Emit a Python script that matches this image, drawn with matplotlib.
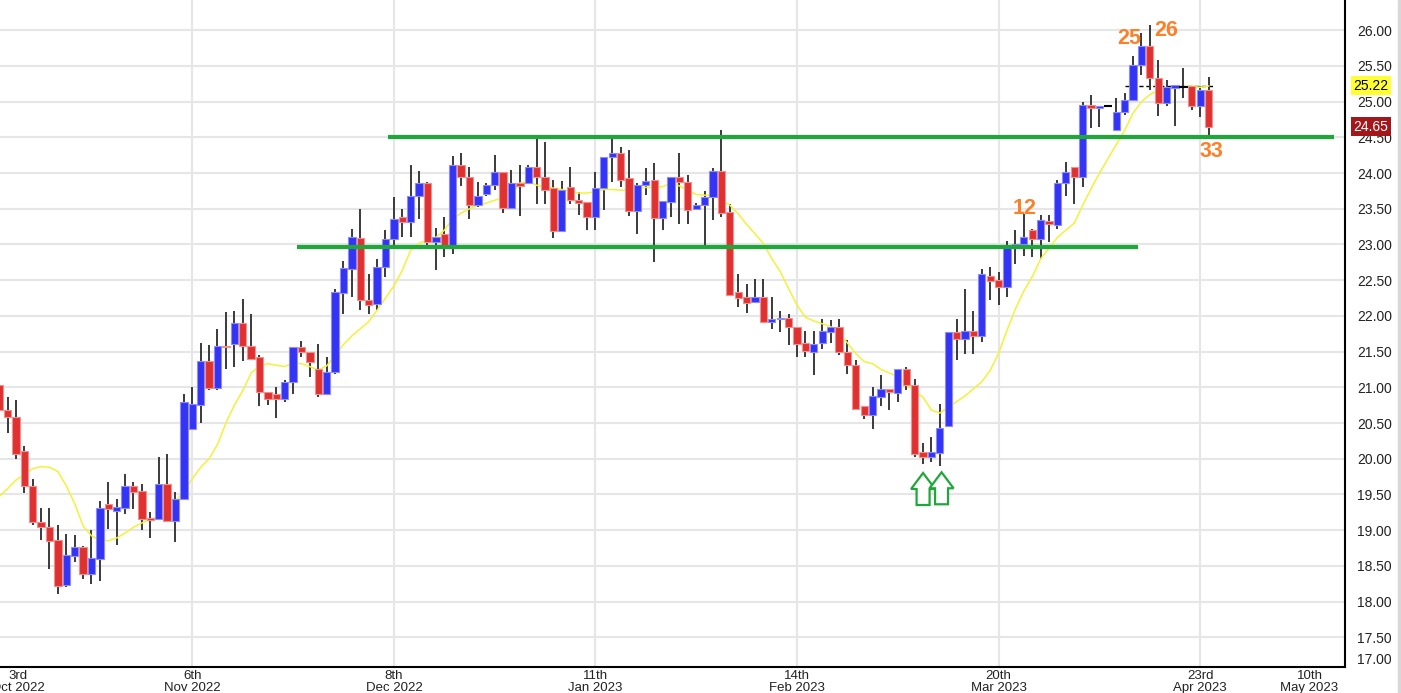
import numpy as np
import pandas as pd
import matplotlib
matplotlib.use("Agg")
import matplotlib.pyplot as plt
import matplotlib.transforms as mtransforms
from matplotlib.patches import Polygon, Rectangle

plt.rcParams['font.family'] = ['Liberation Sans', 'DejaVu Sans']

# 1. Data (daily candles, 4 Oct 2022 -> 24 Apr 2023)
opens = [21.03, 20.68, 20.59, 20.11, 19.62, 19.11, 19.05, 18.86, 18.23, 18.64,
         18.77, 18.39, 18.60, 19.36, 19.27, 19.31, 19.62, 19.55, 19.17, 19.15,
         19.64, 19.13, 19.43, 20.42, 20.75, 21.37, 20.99, 21.58, 21.60, 21.90,
         21.58, 21.42, 20.94, 20.90, 20.83, 21.07, 21.57, 21.49, 21.26, 20.90,
         21.21, 22.32, 22.66, 23.09, 22.22, 22.16, 22.69, 23.07, 23.39, 23.31,
         23.68, 23.86, 23.04, 23.14, 22.98, 24.11, 23.94, 23.55, 23.71, 23.84,
         24.02, 23.51, 23.86, 23.86, 24.08, 23.95, 23.79, 23.19, 23.81, 23.63,
         23.60, 23.39, 23.79, 24.23, 24.28, 23.93, 23.47, 23.83, 23.90, 23.37,
         23.60, 23.94, 23.88, 23.50, 23.56, 23.66, 24.03, 23.46, 22.33, 22.26,
         22.20, 22.26, 21.91, 21.95, 21.97, 21.85, 21.62, 21.50, 21.62, 21.77,
         21.84, 21.50, 21.31, 20.74, 20.61, 20.87, 20.97, 20.92, 21.26, 21.03,
         20.10, 20.03, 20.08, 20.46, 21.78, 21.67, 21.79, 21.72, 22.56, 22.50,
         22.41, 22.97, 23.01, 23.20, 23.08, 23.33, 23.27, 23.86, 24.08, 23.94,
         24.96, 24.91, 24.94, 24.61, 24.86, 25.02, 25.51, 25.78, 25.33, 24.98,
         25.19, 25.21, 25.22, 24.94, 25.17]
highs = [21.08, 20.87, 20.82, 20.18, 19.72, 19.31, 19.31, 19.07, 18.94, 18.93,
         18.78, 19.00, 19.41, 19.67, 19.43, 19.78, 19.67, 19.64, 19.26, 20.02,
         20.07, 19.53, 20.90, 21.01, 21.62, 21.59, 21.81, 22.05, 22.07, 22.23,
         22.03, 21.45, 20.94, 21.00, 21.10, 21.57, 21.65, 21.50, 21.60, 21.43,
         22.38, 22.77, 23.21, 23.50, 22.59, 22.80, 23.20, 23.66, 23.50, 24.12,
         24.03, 23.88, 23.23, 23.39, 24.24, 24.28, 24.09, 23.88, 23.86, 24.26,
         24.02, 24.05, 24.12, 24.12, 24.53, 24.44, 23.90, 23.89, 24.09, 23.74,
         23.60, 24.02, 24.23, 24.49, 24.36, 24.32, 23.86, 24.07, 24.14, 23.61,
         23.94, 24.28, 23.97, 23.58, 23.75, 24.07, 24.60, 23.57, 22.59, 22.45,
         22.52, 22.52, 22.27, 22.07, 22.02, 21.85, 21.79, 21.79, 21.95, 21.94,
         21.96, 21.66, 21.38, 20.74, 21.00, 21.17, 20.97, 21.26, 21.29, 21.12,
         20.22, 20.30, 20.77, 21.78, 21.96, 22.38, 22.07, 22.65, 22.69, 22.62,
         23.05, 23.20, 23.43, 23.22, 23.41, 23.41, 23.90, 24.15, 24.08, 25.00,
         25.10, 24.94, 24.95, 25.05, 25.12, 25.64, 25.96, 26.07, 25.59, 25.30,
         25.23, 25.47, 25.22, 25.22, 25.35]
lows = [20.62, 20.36, 20.00, 19.52, 19.07, 18.86, 18.45, 18.10, 18.21, 18.56,
        18.32, 18.24, 18.29, 19.02, 18.79, 19.22, 19.29, 19.00, 18.89, 19.14,
        19.13, 18.84, 19.42, 20.40, 20.50, 20.96, 20.96, 21.26, 21.29, 21.37,
        21.38, 20.74, 20.75, 20.57, 20.80, 20.91, 21.43, 21.14, 20.86, 20.90,
        21.19, 22.02, 22.27, 22.08, 22.02, 22.08, 22.55, 22.94, 23.10, 23.10,
        23.36, 22.94, 22.64, 22.83, 22.87, 23.82, 23.36, 23.52, 23.68, 23.76,
        23.44, 23.50, 23.40, 23.86, 23.57, 23.57, 23.09, 23.19, 23.57, 23.41,
        23.20, 23.20, 23.48, 23.88, 23.81, 23.40, 23.15, 23.69, 22.76, 23.20,
        23.39, 23.29, 23.29, 23.48, 22.97, 23.34, 23.39, 22.29, 22.13, 22.04,
        22.20, 21.91, 21.81, 21.78, 21.59, 21.43, 21.42, 21.17, 21.54, 21.62,
        21.45, 21.19, 20.70, 20.56, 20.42, 20.74, 20.68, 20.80, 20.96, 20.02,
        19.92, 19.96, 19.90, 20.45, 21.38, 21.47, 21.47, 21.64, 22.22, 22.15,
        22.27, 22.73, 22.84, 22.83, 22.80, 23.04, 23.22, 23.68, 23.57, 23.81,
        24.63, 24.64, 24.93, 24.59, 24.81, 25.02, 25.37, 25.16, 24.80, 24.94,
        24.66, 25.05, 24.88, 24.78, 24.49]
closes = [20.68, 20.58, 20.06, 19.62, 19.11, 19.05, 18.85, 18.22, 18.65, 18.77,
          18.39, 18.61, 19.31, 19.29, 19.33, 19.62, 19.54, 19.16, 19.14, 19.64,
          19.13, 19.44, 20.80, 20.76, 21.37, 20.99, 21.58, 21.56, 21.90, 21.58,
          21.40, 20.94, 20.83, 20.83, 21.07, 21.57, 21.49, 21.36, 20.90, 21.21,
          22.33, 22.67, 23.11, 22.22, 22.15, 22.69, 23.07, 23.36, 23.31, 23.68,
          23.86, 23.04, 23.11, 22.98, 24.11, 23.94, 23.55, 23.68, 23.84, 24.02,
          23.51, 23.86, 23.82, 24.08, 23.95, 23.77, 23.19, 23.77, 23.62, 23.58,
          23.39, 23.79, 24.23, 24.28, 23.91, 23.47, 23.84, 23.89, 23.37, 23.61,
          23.94, 23.88, 23.48, 23.56, 23.66, 24.03, 23.44, 22.29, 22.25, 22.18,
          22.26, 21.91, 21.96, 21.97, 21.85, 21.61, 21.51, 21.60, 21.79, 21.84,
          21.50, 21.31, 20.70, 20.61, 20.88, 20.97, 20.94, 21.25, 21.03, 20.07,
          20.03, 20.09, 20.43, 21.78, 21.67, 21.79, 21.72, 22.59, 22.49, 22.41,
          22.97, 23.01, 23.11, 23.08, 23.34, 23.28, 23.86, 24.02, 23.94, 24.96,
          24.91, 24.94, 24.94, 24.86, 25.03, 25.52, 25.78, 25.33, 24.98, 25.20,
          25.23, 25.21, 24.94, 25.17, 24.65]
# yellow average line, read at every candle
ma_vals = [19.47, 19.58, 19.70, 19.78, 19.86, 19.89, 19.88, 19.82, 19.62, 19.37,
           19.06, 18.92, 18.86, 18.85, 18.89, 18.96, 19.04, 19.10, 19.15, 19.19,
           19.27, 19.40, 19.55, 19.72, 19.88, 20.00, 20.20, 20.50, 20.75, 20.95,
           21.20, 21.30, 21.33, 21.31, 21.29, 21.34, 21.33, 21.29, 21.24, 21.30,
           21.45, 21.60, 21.72, 21.82, 21.92, 22.08, 22.25, 22.42, 22.64, 22.92,
           23.02, 23.06, 23.10, 23.20, 23.36, 23.44, 23.50, 23.55, 23.58, 23.62,
           23.65, 23.69, 23.86, 23.88, 23.83, 23.80, 23.79, 23.77, 23.74, 23.72,
           23.72, 23.74, 23.77, 23.77, 23.76, 23.76, 23.79, 23.80, 23.80, 23.81,
           23.86, 23.82, 23.76, 23.70, 23.69, 23.69, 23.62, 23.55, 23.43, 23.28,
           23.15, 23.01, 22.80, 22.62, 22.38, 22.15, 21.98, 21.93, 21.89, 21.85,
           21.76, 21.62, 21.47, 21.36, 21.33, 21.25, 21.20, 21.15, 21.03, 20.95,
           20.86, 20.68, 20.64, 20.72, 20.80, 20.88, 20.98, 21.08, 21.24, 21.48,
           21.80, 22.10, 22.35, 22.55, 22.80, 22.95, 23.10, 23.20, 23.30, 23.55,
           23.78, 24.00, 24.20, 24.40, 24.60, 24.84, 25.00, 25.10, 25.16, 25.19,
           25.20, 25.21, 25.22, 25.20, 25.22]

# support / resistance lines: level, first candle, last candle
levels = [24.50, 22.97]
level_start = [46.3, 35.5]
level_end = [158.9, 135.6]

tick_dates = ['2022-10-03', '2022-11-06', '2022-12-08', '2023-01-11',
              '2023-02-14', '2023-03-20', '2023-04-23', '2023-05-10']
tick_labels = ['3rd\nOct 2022', '6th\nNov 2022', '8th\nDec 2022', '11th\nJan 2023',
               '14th\nFeb 2023', '20th\nMar 2023', '23rd\nApr 2023', '10th\nMay 2023']

count_labels = ['12', '25', '26', '33']
count_pos = [(122.1, 23.51), (134.5, 25.89), (138.9, 25.99), (144.3, 24.30)]
arrow_at = [(110, 19.80), (112.2, 19.81)]

BLUE = '#3434f4'
RED = '#e03131'
GREEN = '#1fa83a'
ORANGE = '#ff7f27'

# 2. Positions on a trading-day axis
o = np.array(opens)
h = np.array(highs)
l = np.array(lows)
c = np.array(closes)
x = np.arange(len(c))
days = pd.bdate_range('2022-10-04', '2023-05-31')
tick_pos = np.searchsorted(days, pd.to_datetime(tick_dates), side='right') - 1

# 3. Plot
fig = plt.figure(figsize=(14.01, 6.93), dpi=100)
ax = fig.add_axes([0, 26 / 693, 1345 / 1401, 667 / 693])

ax.vlines(x, l, h, color='#3a3a3a', lw=1.4, zorder=2)
up = c > o
dn = c < o
flat = c == o
ax.bar(x[up], (c - o)[up], bottom=o[up], width=0.86, color=BLUE,
       edgecolor='#8c8cff', linewidth=0.8, zorder=3)
ax.bar(x[dn], (c - o)[dn], bottom=o[dn], width=0.86, color=RED,
       edgecolor='#f29090', linewidth=0.8, zorder=3)
ax.hlines(c[flat], x[flat] - 0.5, x[flat] + 0.5, color='k', lw=1.5, zorder=3)

ax.plot(x, ma_vals, color='#f2f23a', lw=1.1, zorder=2.5)
ax.hlines(ma_vals[-1], 134, x[-1] + 0.5, color='k', lw=1, linestyles=(0, (3, 2)), zorder=1.5)

for lev, x0, x1 in zip(levels, level_start, level_end):
    ax.plot([x0, x1], [lev, lev], color=GREEN, lw=3, zorder=5, solid_capstyle='butt')

for txt, (px, py) in zip(count_labels, count_pos):
    ax.text(px, py, txt, color=ORANGE, fontsize=15.5, fontweight='bold',
            ha='center', va='center', zorder=6)

# hollow up arrows, shape in pixels
shape = np.array([[0, 0], [12, -16], [6.5, -16], [6.5, -32],
                  [-6.5, -32], [-6.5, -16], [-12, -16]])
for ax_x, ax_y in arrow_at:
    tr = mtransforms.IdentityTransform() + mtransforms.ScaledTranslation(ax_x, ax_y, ax.transData)
    ax.add_patch(Polygon(shape, closed=True, transform=tr, facecolor='white',
                         edgecolor=GREEN, lw=1.6, zorder=6, joinstyle='miter'))

ax.set_xlim(0.107, 160.23)
ax.set_ylim(17.083, 26.424)

# axes look
ax.set_axisbelow(True)
ax.grid(True, color='#e6e6e6', lw=1.5)
for s in ['top', 'left']:
    ax.spines[s].set_visible(False)
for s in ['right', 'bottom']:
    ax.spines[s].set_linewidth(1.5)
    ax.spines[s].set_color('black')

yt = np.arange(17.5, 26.01, 0.5)
ax.yaxis.tick_right()
ax.set_yticks(yt)
ax.set_yticklabels([f'{v:.2f}' for v in yt])
ax.tick_params(axis='y', length=0, pad=8.6, labelsize=10, labelcolor='#222222')

ax.set_xticks(tick_pos[1:])
ax.set_xticklabels(tick_labels[1:])
ax.tick_params(axis='x', length=0, pad=2, labelsize=9.5, labelcolor='#222222')
for lab in ax.get_xticklabels():
    lab.set_linespacing(1.0)
ax.xaxis.get_gridlines()[-1].set_visible(False)

# first date label, pushed inside like the original
xa = mtransforms.blended_transform_factory(ax.transData, ax.transAxes)
ax.text(2.25, -0.0045, tick_labels[0], transform=xa, ha='center', va='top',
        fontsize=9.5, color='#222222', linespacing=1.0, clip_on=False)

ya = mtransforms.blended_transform_factory(ax.transAxes, ax.transData)
ax.text(1.0089, 26.5, '26.50', transform=ya, ha='left', va='center',
        fontsize=10, color='#222222', clip_on=False)
ax.text(1.0089, 0.0105, '17.00', transform=ax.transAxes, ha='left', va='center',
        fontsize=10, color='#222222', clip_on=False)

# last value tags
ax.text(1.0065, ma_vals[-1], f'{ma_vals[-1]:.2f}', transform=ya, ha='left', va='center',
        fontsize=10, color='black', clip_on=False,
        bbox=dict(boxstyle='square,pad=0.18', fc='#ffff33', ec='none'))
ax.text(1.0065, closes[-1], f'{closes[-1]:.2f}', transform=ya, ha='left', va='center',
        fontsize=10, color='white', clip_on=False,
        bbox=dict(boxstyle='square,pad=0.18', fc='#a3161a', ec='none'))

fig.patches.append(Rectangle((1398 / 1401, 0), 3 / 1401, 1, transform=fig.transFigure,
                             color='#d8d8d8', zorder=0))

fig.savefig('out.png', dpi=100)
